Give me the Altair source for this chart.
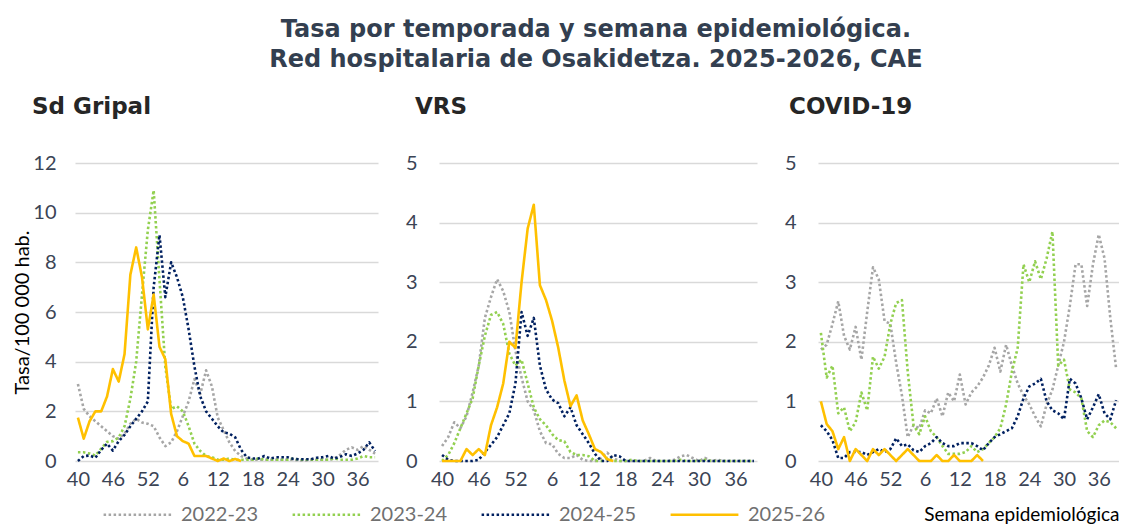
import altair as alt
import pandas as pd

seasons = ["2022-23", "2023-24", "2024-25", "2025-26"]
colors = ["#A6A6A6", "#92D050", "#002060", "#FFC000"]
dashes = [[2.5, 2.5], [2.5, 2.5], [2.5, 2.5], [1, 0]]
stroke_widths = [2.6, 2.6, 2.6, 4.5]

tick_idx = [0, 6, 12, 18, 24, 30, 36, 42, 48]
tick_labels = ["40", "46", "52", "6", "12", "18", "24", "30", "36"]

# ---- Sd Gripal ----
gripal_2223 = [3.1, 2.1, 1.8, 1.6, 1.4, 1.2, 1.0, 0.9, 1.1, 1.5, 1.7, 1.55, 1.5, 1.4, 0.95, 0.6, 0.75, 1.2, 1.8,
               2.4, 3.3, 2.7, 3.65, 3.0, 1.75, 1.25, 0.75, 0.4, 0.2, 0.1, 0.05, 0.05, 0.05, 0.05, 0.05, 0.05, 0.05,
               0.05, 0.02, 0.02, 0.05, 0.05, 0.05, 0.05, 0.1, 0.25, 0.45, 0.55, 0.45, 0.6, 0.45, 0.3]
gripal_2324 = [0.35, 0.35, 0.3, 0.22, 0.5, 0.77, 0.8, 0.95, 1.4, 2.5, 4.0, 6.7, 9.3, 10.9, 7.3, 3.8, 2.1, 2.2, 2.0,
               1.4, 0.7, 0.4, 0.2, 0.15, 0.05, 0.05, 0.1, 0.05, 0.05, 0.05, 0.05, 0.1, 0.05, 0.05, 0.05, 0.05, 0.05,
               0.1, 0.05, 0.05, 0.05, 0.05, 0.05, 0.05, 0.1, 0.05, 0.05, 0.05, 0.1, 0.2, 0.15, 0.15]
gripal_2425 = [0.0, 0.2, 0.22, 0.13, 0.45, 0.7, 0.42, 0.8, 1.05, 1.4, 1.7, 2.0, 2.4, 7.0, 9.1, 6.6, 8.0, 7.4, 6.6,
               5.3, 3.8, 2.6, 2.0, 1.7, 1.4, 1.15, 1.1, 0.95, 0.45, 0.15, 0.1, 0.1, 0.2, 0.1, 0.15, 0.15, 0.15, 0.08,
               0.07, 0.07, 0.07, 0.13, 0.15, 0.2, 0.1, 0.17, 0.27, 0.2, 0.3, 0.45, 0.75, 0.4]
gripal_2526 = [1.75, 0.9, 1.6, 2.0, 2.0, 2.6, 3.7, 3.2, 4.3, 7.5, 8.6, 7.4, 5.3, 6.7, 4.6, 4.1, 1.9, 1.0, 0.8, 0.7,
               0.2, 0.2, 0.2, 0.1, 0.0, 0.1, 0.0, 0.08, 0.0]

# ---- VRS ----
vrs_2223 = [0.25, 0.4, 0.65, 0.55, 0.75, 1.15, 1.6, 2.4, 2.75, 3.05, 2.85, 2.5, 1.85, 1.4, 1.0, 0.85, 0.5, 0.3,
            0.28, 0.12, 0.05, 0.05, 0.1, 0.02, 0.0, 0.0, 0.05, 0.14, 0.05, 0.0, 0.0, 0.0, 0.0, 0.0, 0.05, 0.0, 0.0,
            0.0, 0.02, 0.08, 0.1, 0.05, 0.0, 0.05, 0.0, 0.02, 0.0, 0.0, 0.0, 0.0, 0.0, 0.0]
vrs_2324 = [0.0, 0.1, 0.3, 0.55, 0.8, 1.05, 1.6, 2.1, 2.45, 2.5, 2.3, 1.8, 1.6, 1.7, 1.3, 0.9, 0.7, 0.6, 0.45, 0.35,
            0.33, 0.15, 0.1, 0.1, 0.08, 0.0, 0.0, 0.05, 0.0, 0.0, 0.0, 0.02, 0.0, 0.0, 0.0, 0.0, 0.0, 0.0, 0.0, 0.02,
            0.0, 0.0, 0.0, 0.02, 0.0, 0.0, 0.0, 0.0, 0.0, 0.0, 0.0, 0.0]
vrs_2425 = [0.1, 0.02, 0.0, 0.0, 0.0, 0.0, 0.02, 0.15, 0.27, 0.4, 0.6, 0.8, 1.3, 2.5, 2.1, 2.4, 1.6, 1.2, 1.03, 0.97,
            0.75, 0.9, 0.6, 0.45, 0.3, 0.12, 0.0, 0.0, 0.1, 0.08, 0.0, 0.0, 0.0, 0.0, 0.0, 0.0, 0.0, 0.0, 0.0, 0.0,
            0.0, 0.0, 0.0, 0.0, 0.0, 0.0, 0.0, 0.0, 0.0, 0.0, 0.0, 0.0]
vrs_2526 = [0.0, 0.0, 0.0, 0.0, 0.2, 0.1, 0.2, 0.1, 0.6, 0.9, 1.3, 2.0, 1.9, 3.0, 3.9, 4.3, 2.95, 2.7, 2.35, 1.9,
            1.35, 0.92, 1.1, 0.68, 0.45, 0.2, 0.15, 0.03, 0.0]

# ---- COVID-19 ----
covid_2223 = [1.87, 1.95, 2.3, 2.68, 2.1, 1.87, 2.25, 1.7, 2.5, 3.25, 3.05, 2.35, 2.3, 1.65, 1.1, 0.4, 0.6, 0.55,
              0.85, 0.8, 1.05, 0.75, 1.15, 1.0, 1.45, 0.95, 1.15, 1.25, 1.4, 1.6, 1.9, 1.5, 1.95, 1.6, 1.3, 1.1,
              0.95, 0.75, 0.58, 0.95, 1.2, 1.6, 2.0, 2.6, 3.3, 3.3, 2.6, 3.3, 3.8, 3.4, 2.4, 1.55]
covid_2324 = [2.15, 1.4, 1.6, 0.8, 0.9, 0.5, 0.65, 1.15, 0.85, 1.75, 1.55, 1.75, 2.3, 2.65, 2.7, 1.5, 0.6, 0.45,
              0.75, 0.5, 0.4, 0.25, 0.12, 0.12, 0.12, 0.15, 0.25, 0.15, 0.2, 0.3, 0.4, 0.55, 0.95, 1.5, 1.9, 3.3,
              3.0, 3.35, 3.05, 3.4, 3.85, 1.6, 1.7, 1.2, 1.15, 1.05, 0.5, 0.4, 0.6, 0.68, 0.65, 0.55]
covid_2425 = [0.6, 0.5, 0.35, 0.05, 0.05, 0.15, 0.15, 0.15, 0.1, 0.15, 0.2, 0.15, 0.2, 0.38, 0.25, 0.28, 0.18, 0.15,
              0.25, 0.3, 0.4, 0.3, 0.25, 0.25, 0.3, 0.3, 0.3, 0.25, 0.18, 0.3, 0.4, 0.45, 0.5, 0.55, 0.75, 1.05,
              1.25, 1.3, 1.38, 1.0, 0.85, 0.8, 0.7, 1.38, 1.3, 1.05, 0.7, 0.9, 1.12, 0.8, 0.7, 1.02]
covid_2526 = [1.0, 0.62, 0.5, 0.2, 0.4, 0.0, 0.2, 0.1, 0.0, 0.2, 0.1, 0.2, 0.1, 0.0, 0.1, 0.2, 0.1, 0.0, 0.0, 0.0,
              0.1, 0.0, 0.0, 0.1, 0.0, 0.0, 0.0, 0.1, 0.0]

FONT = "Lato"
TITLE_FONT = "DejaVu Sans"
LABEL_COLOR = "#3B4455"

label_expr = "[" + ",".join("'%s'" % t for t in tick_labels) + "][indexof([" + \
    ",".join(str(t) for t in tick_idx) + "], datum.value)]"


def long_df(series):
    rows = []
    for s, vals in zip(seasons, series):
        for i, v in enumerate(vals):
            rows.append({"i": i, "v": v, "Temporada": s})
    return pd.DataFrame(rows)


legend = alt.Legend(orient="none", legendX=27, legendY=316, direction="horizontal", columns=4,
                    symbolType="stroke", symbolSize=4600, labelFontSize=20, labelFont=FONT,
                    labelColor="#707070", columnPadding=28, labelOffset=8)


def panel(series, title, title_dx, ymax, yvals, width, ytitle=None, xtitle=None):
    x_kw = dict(values=tick_idx, labelExpr=label_expr, ticks=False, domain=False, grid=False,
                labelFontSize=20, labelFont=FONT, labelColor=LABEL_COLOR, labelPadding=8,
                labelOverlap=False, labelFlush=False)
    if xtitle:
        x_kw.update(title=xtitle, titleAnchor="end", titleFont=FONT, titleFontSize=19,
                    titleFontWeight="normal", titleColor="#000000", titlePadding=16)
    y_kw = dict(values=yvals, ticks=False, domain=False, grid=True, labelFontSize=20, labelFont=FONT,
                labelColor=LABEL_COLOR, labelPadding=19 if ytitle else 22)
    if ytitle:
        y_kw.update(title=ytitle, titleFont=FONT, titleFontSize=20, titleFontWeight="normal",
                    titleColor="#000000", titlePadding=0)
    xt = xtitle if xtitle else None
    yt = ytitle if ytitle else None
    return alt.Chart(long_df(series)).mark_line(strokeJoin="round").encode(
        x=alt.X("i:Q", scale=alt.Scale(domain=[-0.5, 51.5], nice=False, zero=False),
                axis=alt.Axis(**x_kw), title=xt),
        y=alt.Y("v:Q", scale=alt.Scale(domain=[0, ymax], nice=False), axis=alt.Axis(**y_kw), title=yt),
        color=alt.Color("Temporada:N", scale=alt.Scale(domain=seasons, range=colors), legend=legend, title=None),
        strokeDash=alt.StrokeDash("Temporada:N", scale=alt.Scale(domain=seasons, range=dashes),
                                  legend=legend, title=None),
        strokeWidth=alt.StrokeWidth("Temporada:N", scale=alt.Scale(domain=seasons, range=stroke_widths),
                                    legend=legend, title=None),
    ).properties(
        width=width, height=298,
        title=alt.TitleParams(title, anchor="start", frame="group", dx=title_dx, fontSize=23, font=TITLE_FONT,
                              fontWeight="bold", color="#262626", offset=34),
    )


p1 = panel([gripal_2223, gripal_2324, gripal_2425, gripal_2526], "Sd Gripal", -43, 12,
           [0, 2, 4, 6, 8, 10, 12], 303, ytitle="Tasa/100 000 hab.")
p2 = panel([vrs_2223, vrs_2324, vrs_2425, vrs_2526], "VRS", -24, 5, [0, 1, 2, 3, 4, 5], 318)
p3 = panel([covid_2223, covid_2324, covid_2425, covid_2526], "COVID-19", -29, 5, [0, 1, 2, 3, 4, 5], 301,
           xtitle="Semana epidemiológica")

chart = alt.hconcat(p1, p2, p3, spacing=27).resolve_scale(
    x="independent", y="independent"
).properties(
    padding={"left": 4, "top": 10, "right": 0, "bottom": 0},
    title=alt.TitleParams(["Tasa por temporada y semana epidemiológica.",
                           "Red hospitalaria de Osakidetza. 2025-2026, CAE"],
                          anchor="middle", dx=30, fontSize=24, lineHeight=30, font=TITLE_FONT,
                          fontWeight="bold", color="#333F50", offset=24),
).configure_view(strokeWidth=0).configure_axis(gridColor="#D9D9D9", gridWidth=1.6)

chart.save("out.html", embed_options={"renderer": "svg", "actions": False})
